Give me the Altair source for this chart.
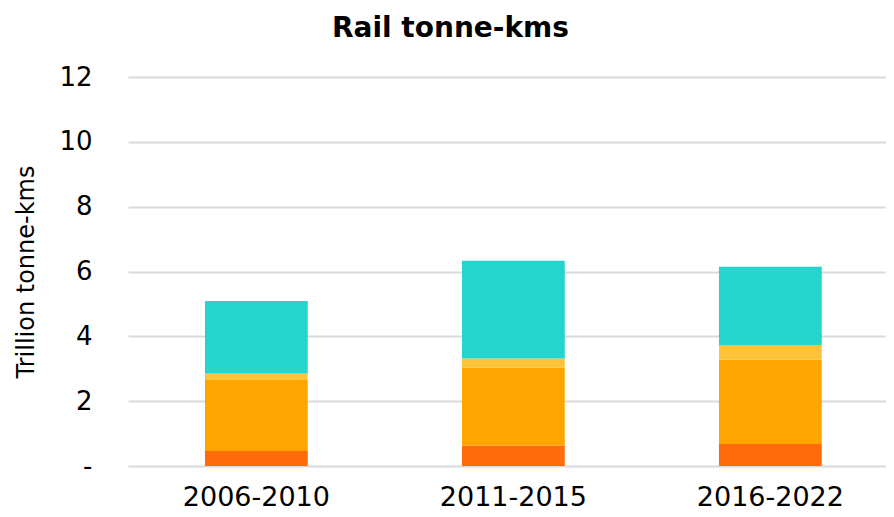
import altair as alt
import pandas as pd

periods = ["2006-2010", "2011-2015", "2016-2022"]
segments = ["s1", "s2", "s3", "s4"]
seg1 = [0.46, 0.63, 0.68]
seg2 = [2.19, 2.40, 2.60]
seg3 = [0.20, 0.29, 0.45]
seg4 = [2.24, 3.01, 2.42]
colors = ["#FF6A0A", "#FFA500", "#FFC33A", "#23D5CC"]

rows = []
for i, p in enumerate(periods):
    for k, (name, vals) in enumerate(zip(segments, [seg1, seg2, seg3, seg4])):
        rows.append({"period": p, "segment": name, "order": k, "value": vals[i]})
df = pd.DataFrame(rows)

FONT = "DejaVu Sans"

chart = alt.Chart(df).mark_bar().encode(
    x=alt.X("period:N", sort=periods, title=None,
            scale=alt.Scale(paddingInner=0.6, paddingOuter=0.2747, align=0.545),
            axis=alt.Axis(labelAngle=0, labelFontSize=27, labelFont=FONT, labelColor="#000000",
                          ticks=False, domain=False, labelPadding=18, grid=False)),
    y=alt.Y("value:Q", stack="zero", title="Trillion tonne-kms",
            scale=alt.Scale(domain=[0, 12], nice=False),
            axis=alt.Axis(values=[0, 2, 4, 6, 8, 10, 12], labelFontSize=26, labelFont=FONT,
                          labelColor="#000000", ticks=False, domain=False, labelPadding=36,
                          labelExpr="datum.value == 0 ? '-' : datum.label",
                          gridColor="#D9D9D9", gridWidth=2,
                          titleFontSize=24, titleFont=FONT, titleFontWeight="normal",
                          titleColor="#000000", titlePadding=20)),
    color=alt.Color("segment:N", scale=alt.Scale(domain=segments, range=colors), legend=None),
    order=alt.Order("order:Q", sort="ascending"),
).properties(
    width=758, height=389,
    title=alt.TitleParams("Rail tonne-kms", fontSize=28, font=FONT, fontWeight="bold",
                          color="#000000", anchor="middle", frame="bounds", offset=21),
    autosize=alt.AutoSizeParams(type="none"),
    padding={"left": 120, "top": 69, "right": 0, "bottom": 48},
).configure_view(stroke=None)

chart.save("out.html", embed_options={"renderer": "svg", "actions": False})
